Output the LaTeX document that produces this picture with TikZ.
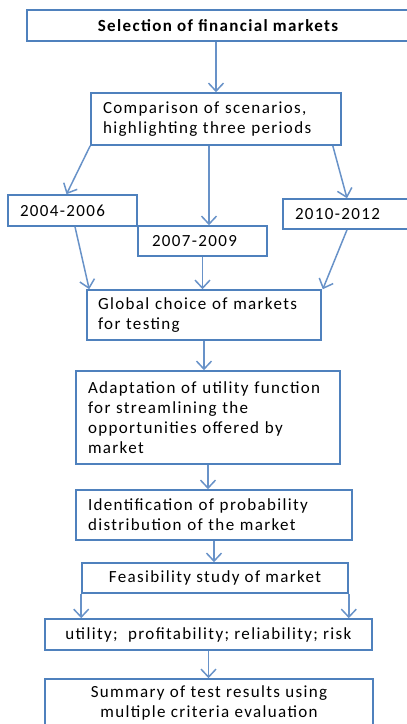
\documentclass[tikz,border=0pt]{standalone}
\usepackage{fontspec}
\setmainfont{Carlito}[LetterSpace=8]
\usetikzlibrary{arrows.meta,positioning}
\definecolor{boxblue}{RGB}{79,129,189}
\definecolor{arrowblue}{RGB}{104,146,200}

\begin{document}
\begin{tikzpicture}[x=1pt,y=-1pt,
  block/.style={draw=boxblue,line width=1.6pt,rectangle,inner ysep=0pt,
    font=\fontsize{17}{20}\selectfont},
  lblock/.style={block,align=left},
  cblock/.style={block,align=center,inner xsep=0pt},
  arr/.style={draw=arrowblue,line width=1.5pt,-{Straight Barb[length=8pt,width=15pt]}}]
\useasboundingbox (0,0) rectangle (407,724);
\clip (0,0) rectangle (407,724);
% top of the chain
\node[cblock,minimum width=382pt,minimum height=31pt,font=\fontsize{17}{20}\selectfont\bfseries] (sel) at (218,25.5) {Selection of financial markets};
\node[lblock,inner xsep=12pt,text width=226pt,minimum height=52pt] (cmp) at (216,119) {Comparison of scenarios,\\highlighting three periods};
% the three periods
\node[lblock,inner xsep=12pt,text width=105pt,minimum height=31pt] (p04) at (72.5,210.5) {2004-2006};
\node[lblock,inner xsep=14pt,text width=101pt,minimum height=30pt] (p07) at (202.5,241) {2007-2009};
\node[lblock,inner xsep=12pt,text width=102pt,minimum height=30pt] (p10) at (346,214) {2010-2012};
% choice and study of markets
\node[lblock,inner xsep=11pt,text width=212pt,minimum height=50pt] (glob) at (204,315) {Global choice of markets\\for testing};
\node[lblock,inner xsep=12pt,text width=240pt,minimum height=93pt] (adapt) at (208,417.5) {Adaptation of utility function\\for streamlining the\\opportunities offered by\\market};
\node[lblock,inner xsep=12pt,text width=252pt,minimum height=50pt] (ident) at (214,515) {Identification of probability\\distribution of the market};
\node[cblock,minimum width=266pt,minimum height=30pt] (feas) at (215,578) {Feasibility study of market};
\node[cblock,minimum width=327pt,minimum height=31pt] (crit) at (208.5,634.5) {utility;\ \ profitability; reliability; risk};
\node[cblock,minimum width=328pt,minimum height=48pt] (summ) at (209,703) {Summary of test results using\\multiple criteria evaluation};
% connectors
\draw[arr] (cmp.north |- sel.south) -- (cmp.north);
\draw[arr] (cmp.south west) -- ([xshift=-6pt]p04.north);
\draw[arr] ([xshift=-7pt]cmp.south) -- ([xshift=-7pt]cmp.south |- p07.north);
\draw[arr] ([xshift=-9pt]cmp.south east) -- ([xshift=1pt]p10.north);
\draw[arr] ([xshift=2.5pt]p04.south) -- ([xshift=3pt]glob.north west);
\draw[arr] (p07.south) -- (p07.south |- glob.north);
\draw[arr] ([xshift=1pt]p10.south) -- ([xshift=1pt]glob.north east);
\draw[arr] (glob.south) -- (glob.south |- adapt.north);
\draw[arr] (adapt.south) -- (adapt.south |- ident.north);
\draw[arr] (ident.south) -- (ident.south |- feas.north);
\draw[arr] (feas.south west) -- (feas.south west |- crit.north);
\draw[arr] (feas.south east) -- (feas.south east |- crit.north);
\draw[arr] (crit.south) -- (crit.south |- summ.north);
\end{tikzpicture}
\end{document}
